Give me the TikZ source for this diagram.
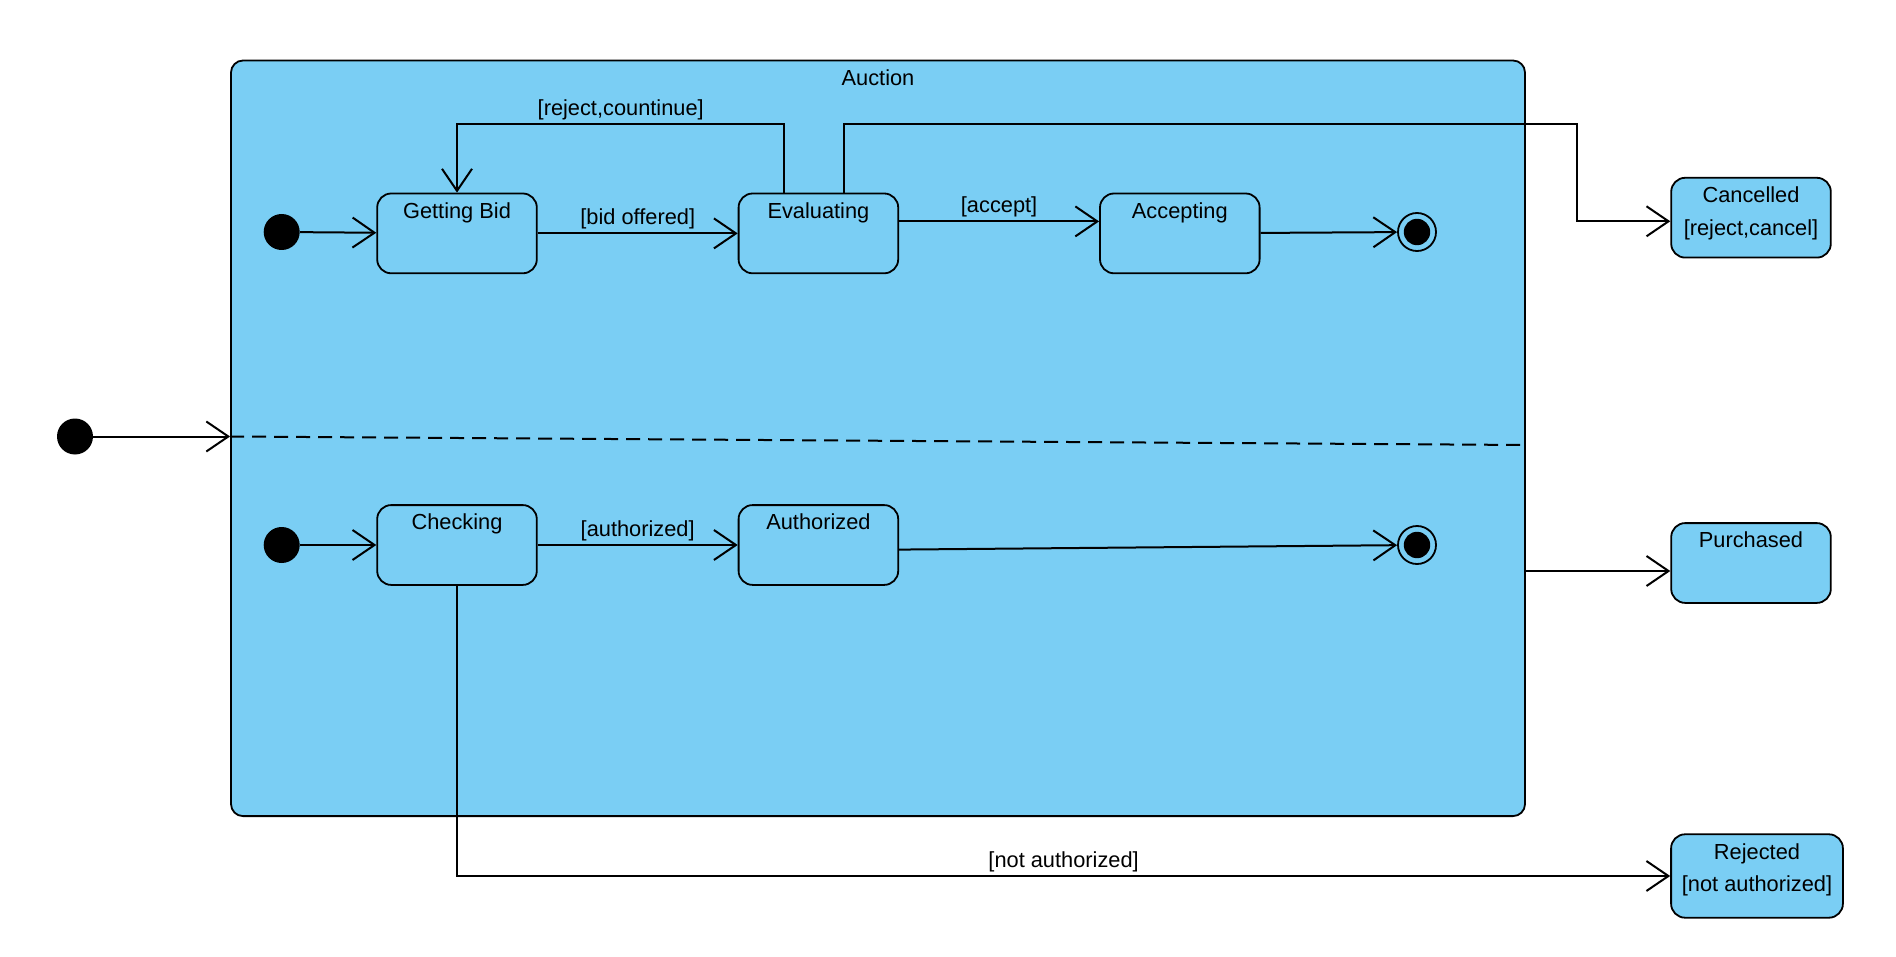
\documentclass[tikz,border=0pt]{standalone}
\usepackage{fontspec}
\setmainfont{Liberation Sans}
\usetikzlibrary{arrows.meta, positioning, calc}
\definecolor{stfill}{RGB}{122,206,244}

\begin{document}
\begin{tikzpicture}[
    x=0.5pt, y=-0.5pt,
    font=\fontsize{10.9}{16.3}\selectfont,
    node distance=115pt and 100pt,
    state/.style={rectangle, draw=black, fill=stfill, line width=0.9pt, rounded corners=7pt,
                  minimum width=79.8pt, minimum height=39.9pt, inner sep=0pt},
    statename/.style={anchor=north, inner sep=0pt, yshift=-4.8pt, align=center},
    composite/.style={rectangle, draw=black, fill=stfill, line width=0.9pt, rounded corners=6pt,
                      minimum width=647pt, minimum height=377.8pt, inner sep=0pt},
    initial/.style={circle, fill=black, minimum size=18pt, inner sep=0pt},
    final/.style={circle, draw=black, fill=stfill, line width=0.9pt, minimum size=19pt, inner sep=0pt,
                  path picture={\fill[black] (path picture bounding box.center) circle (6.6pt);}},
    trans/.style={-{Straight Barb[length=11pt, width=15pt]}, line width=1pt},
    guard/.style={inner sep=1.5pt},
    region/.style={dash pattern=on 7pt off 4pt, line width=1pt},
]
\useasboundingbox (0,0) rectangle (1896,957);

% composite state
\node[composite, label={[statename]north:Auction}] (auction) at (878,438.3) {};
\node[initial] (init0) at (75,436.5) {};

% upper region
\node[state, label={[statename]north:Getting Bid}] (getbid) at (457,233.4) {};
\node[state, right=of getbid, label={[statename]north:Evaluating}] (eval) {};
\node[state, right=of eval, label={[statename]north:Accepting}] (accept) {};
\node[initial] (init1) at (281.7,232) {};
\node[final] (fin1) at (1417,232) {};

% lower region
\node[state, below=of getbid, label={[statename]north:Checking}] (check) {};
\node[state, right=of check, label={[statename]north:Authorized}] (auth) {};
\node[initial] (init2) at (init1 |- check) {};
\node[final] (fin2) at (fin1 |- check) {};

% outer states
\node[state, label={[statename]north:Cancelled\\{}[reject,cancel]}] (cancel) at (1751,217.7) {};
\node[state, label={[statename]north:Purchased}] (purchase) at (1751,563) {};
\node[state, minimum width=85.9pt, minimum height=41.7pt,
      label={[statename]north:Rejected\\{}[not authorized]}] (reject) at (1757,876) {};

% region separator
\draw[region] (auction.west |- init0) -- ($(auction.east)+(0,6.7)$);

% transitions
\draw[trans] (init0) -- (init0 -| auction.west);
\draw[trans] (init1) -- (getbid);
\draw[trans] (getbid) -- node[guard, above] {[bid offered]} (eval);
\draw[trans] ([yshift=6pt]eval.east) -- node[guard, above] {[accept]} ([yshift=6pt]accept.west);
\draw[trans] (accept) -- (fin1);
\draw[trans] ([xshift=-17pt]eval.north) |- node[guard, above, pos=0.75] {[reject,countinue]}
    ($(getbid.north)+(0,-69)$) -- (getbid.north);
\draw[trans] ([xshift=12.7pt]eval.north) |- ($(cancel.west)+(-93,-93.2)$) |- ([yshift=-1.8pt]cancel.west);

\draw[trans] (init2) -- (check);
\draw[trans] (check) -- node[guard, above] {[authorized]} (auth);
\draw[trans] ([yshift=-2.3pt]auth.east) -- (fin2);
\draw[trans] (check) |- node[guard, above, pos=0.75] {[not authorized]} (reject);

\coordinate (pin) at ([yshift=-4pt]purchase.west);
\draw[trans] (pin -| auction.east) -- (pin);
\end{tikzpicture}
\end{document}
